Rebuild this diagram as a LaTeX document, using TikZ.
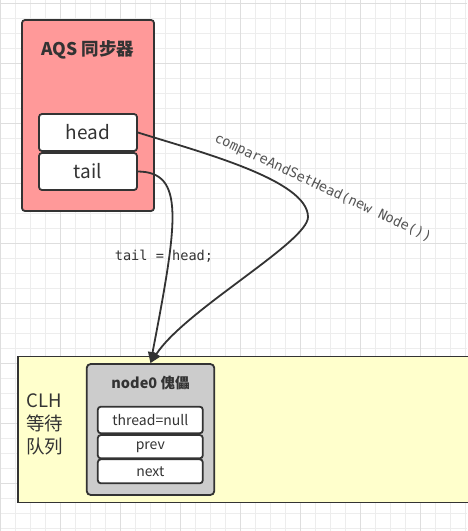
\documentclass[tikz,border=0pt]{standalone}
\usepackage{fontspec}
\setmainfont{Noto Sans CJK SC}
\newfontfamily\codefont{DejaVu Sans Mono}
\usetikzlibrary{arrows.meta}

\definecolor{ink}{HTML}{333333}
\definecolor{gridminor}{HTML}{EDEDED}
\definecolor{gridmajor}{HTML}{DEDEDE}
\definecolor{aqsred}{HTML}{FF9999}
\definecolor{clhyellow}{HTML}{FFFFCC}
\definecolor{nodegray}{HTML}{CCCCCC}
\definecolor{labelgray}{HTML}{555555}

\tikzset{
  box/.style={draw=ink, line width=1.8pt, rounded corners=3pt, inner sep=0pt},
  field/.style={box, fill=white, text=ink, minimum width=98pt},
  cell/.style={box, fill=white, text=ink, minimum width=105pt, font=\fontsize{14}{16}\selectfont},
  arr/.style={draw=ink, line width=1.8pt, -{Triangle[length=11pt,width=9pt]}},
  code/.style={font=\codefont\fontsize{13.6}{16}\selectfont}
}

\begin{document}
\begin{tikzpicture}[x=1pt,y=-1pt]
\useasboundingbox (0,0) rectangle (467,531);

% grid
\fill [white] (0,0) rectangle (467,531);
\foreach \i in {0,...,31} \draw [gridminor, line width=1pt] (0.7+15*\i,0) -- (0.7+15*\i,531);
\foreach \i in {0,...,35} \draw [gridminor, line width=1pt] (0,3.3+15*\i) -- (467,3.3+15*\i);
\foreach \i in {0,...,7} \draw [gridmajor, line width=1pt] (0.7+60*\i,0) -- (0.7+60*\i,531);
\foreach \i in {0,...,8} \draw [gridmajor, line width=1pt] (0,3.3+60*\i) -- (467,3.3+60*\i);

% AQS
\node [box, fill=aqsred, minimum width=132pt, minimum height=191pt] (aqs) at (88,115.5) {};
\node [text=ink, font=\bfseries\fontsize{17.5}{20}\selectfont] (aqstitle) at (88,50) {AQS 同步器};
\node [field, minimum height=37pt, font=\fontsize{19}{22}\selectfont] (head) at (88,132.5) {head};
\node [field, minimum height=37pt, font=\fontsize{19}{22}\selectfont] (tail) at (88,171.5) {tail};

% CLH queue
\node [draw=ink, line width=1.8pt, fill=clhyellow, minimum width=454pt, minimum height=146pt, inner sep=0pt] (clh) at (245,429.5) {};
\node [anchor=west, align=left, text=ink, font=\fontsize{18.5}{23}\selectfont, inner sep=0pt] (clhtext) at (26,424) {CLH\\等待\\队列};

% node0
\node [box, rounded corners=4pt, fill=nodegray, minimum width=127.6pt, minimum height=131pt] (node0) at (150.5,429.5) {};
\node [text=ink, font=\bfseries\fontsize{14.5}{16}\selectfont] (node0title) at (150.5,382.7) {node0 傀儡};
\node [cell, minimum height=26.6pt] (thread) at (150.3,420) {thread=null};
\node [cell, minimum height=23.3pt] (prev) at (150.3,446.7) {prev};
\node [cell, minimum height=24pt] (next) at (150.3,471.3) {next};

% pointers
\coordinate (hbend) at (308,217);
\draw [arr] (head.east) .. controls (200,152) and (308,180) .. (hbend) .. controls (308,242) and (185,310) .. (node0.north);
\draw [arr] (tail.east) .. controls (185,172) and (178,220) .. (node0.north);

% labels
\node [code, text=labelgray, rotate=-25] (casl) at (323,188) {compareAndSetHead(new Node())};
\node [code, text=ink] (assign) at (164,256.7) {tail = head;};

\end{tikzpicture}
\end{document}
